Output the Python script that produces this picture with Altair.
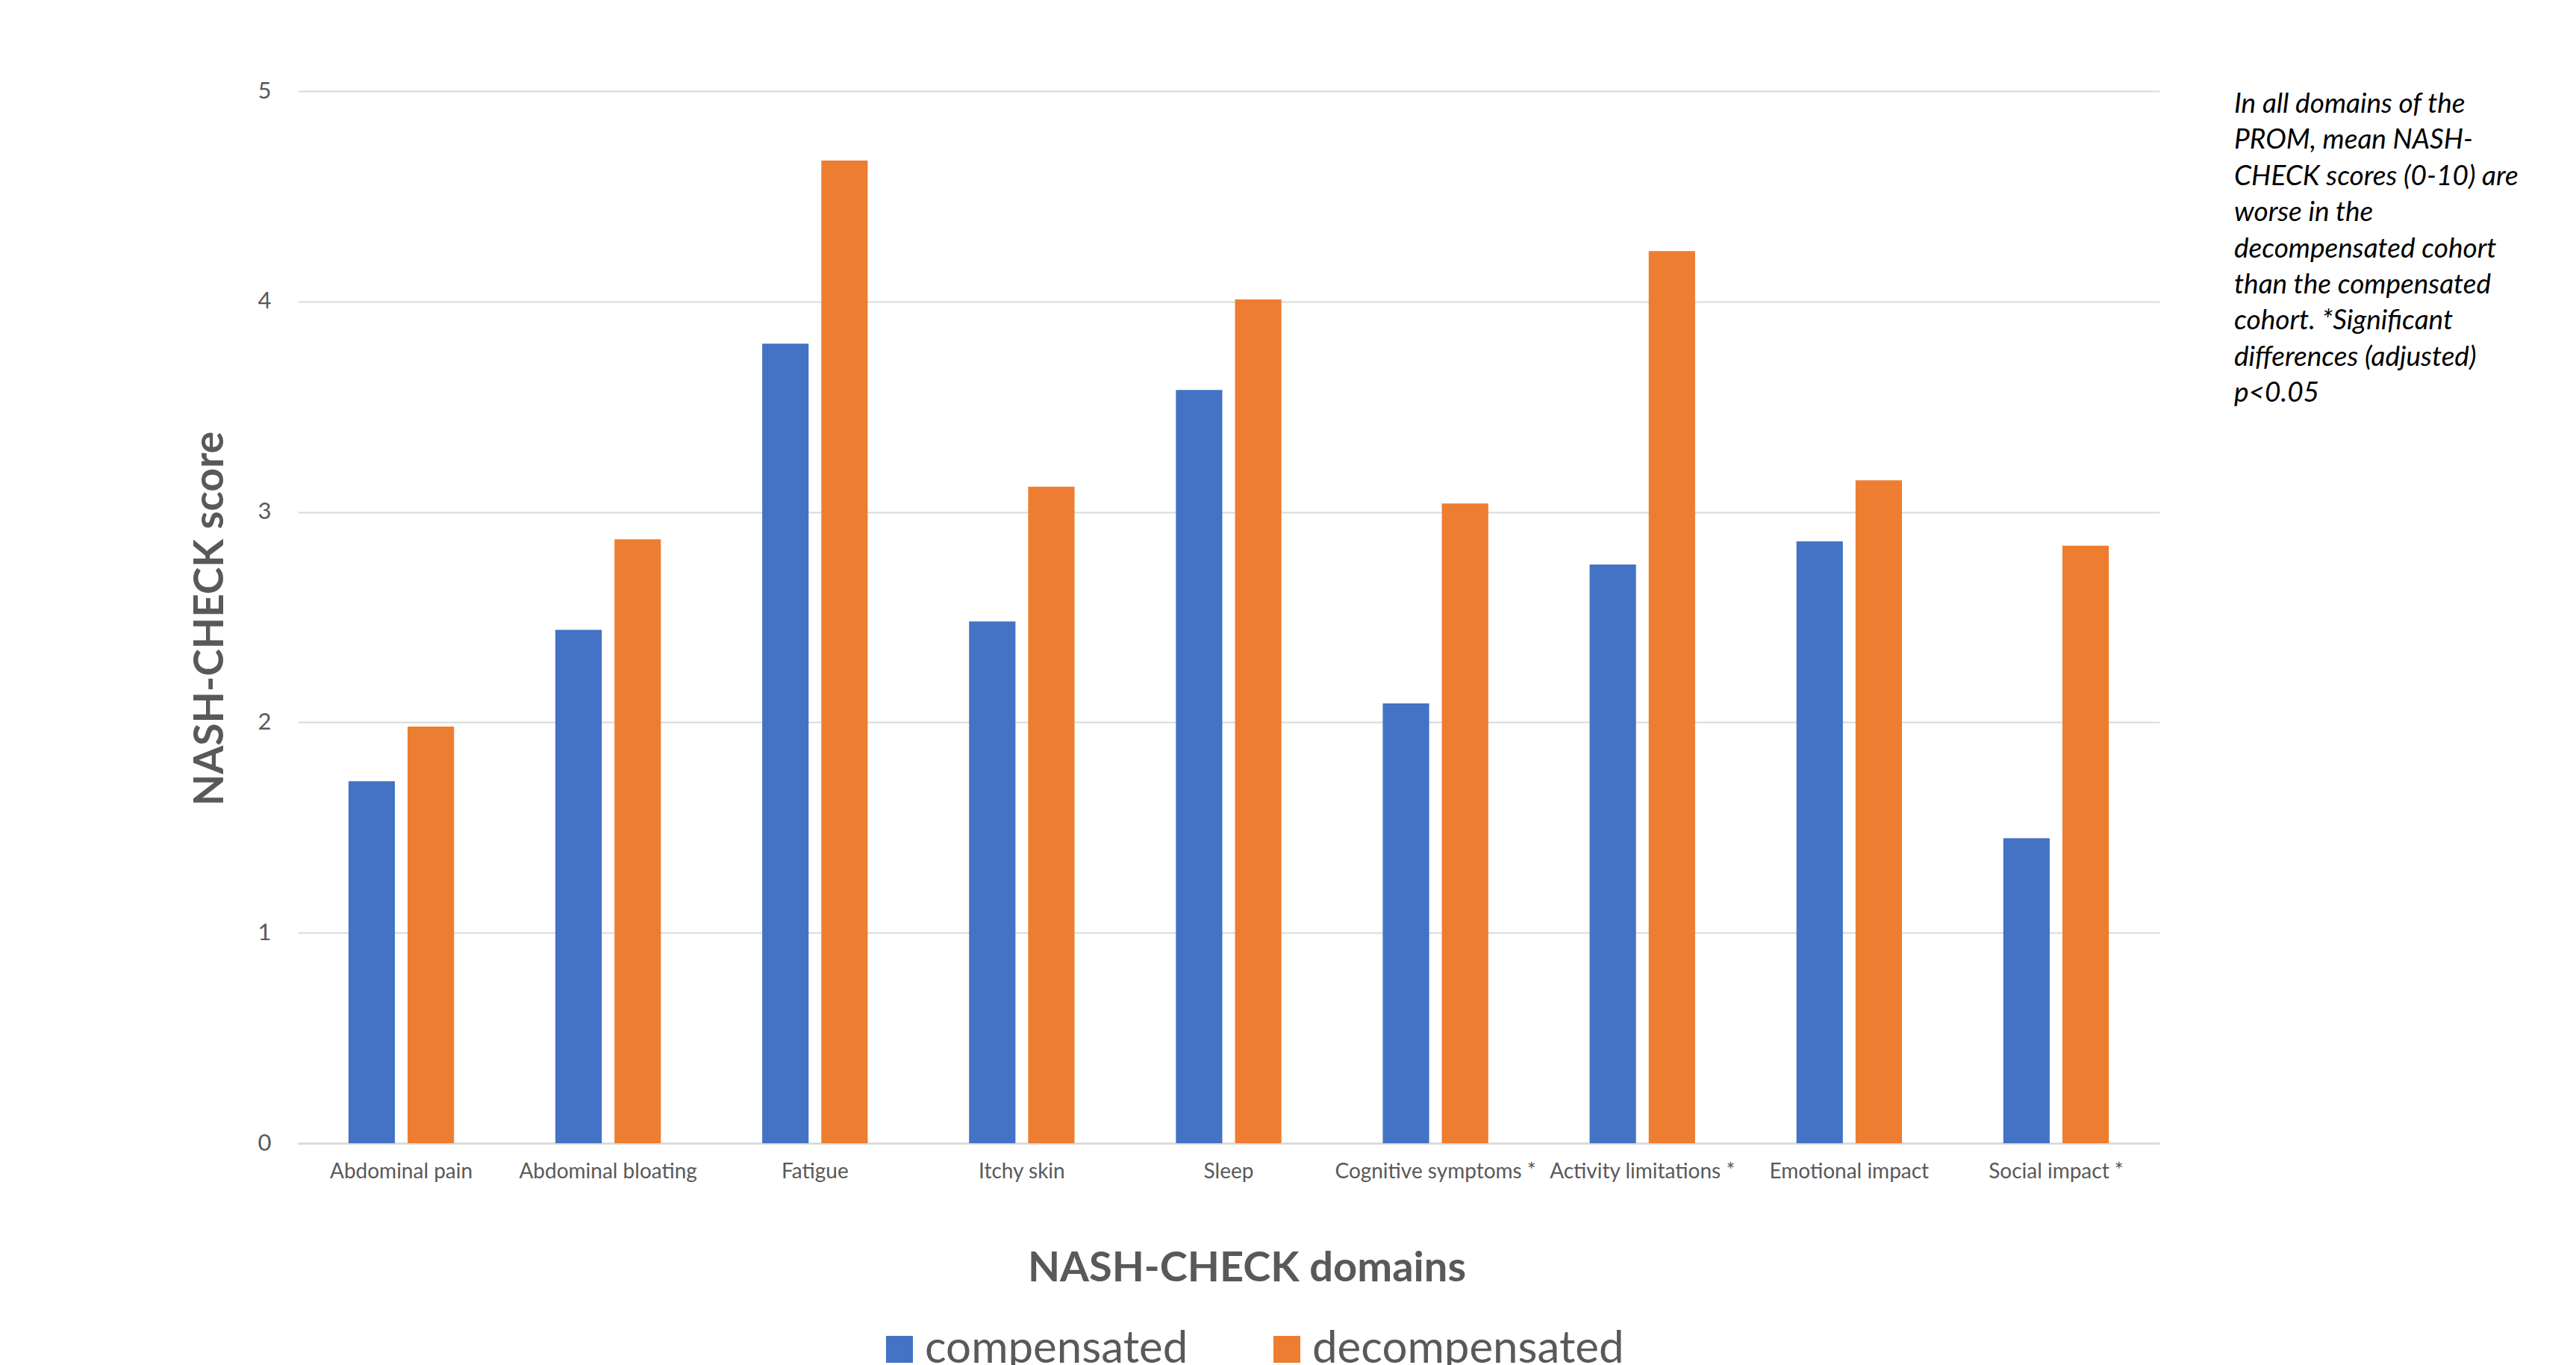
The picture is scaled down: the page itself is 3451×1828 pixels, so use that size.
import altair as alt
import pandas as pd

domains = ["Abdominal pain", "Abdominal bloating", "Fatigue", "Itchy skin", "Sleep",
           "Cognitive symptoms *", "Activity limitations *", "Emotional impact", "Social impact *"]
compensated = [1.72, 2.44, 3.80, 2.48, 3.58, 2.09, 2.75, 2.86, 1.45]
decompensated = [1.98, 2.87, 4.67, 3.12, 4.01, 3.04, 4.24, 3.15, 2.84]
cohorts = ["compensated", "decompensated"]
colors = ["#4472C4", "#ED7D31"]
y_ticks = [0, 1, 2, 3, 4, 5]
note_lines = [
    "In all domains of the",
    "PROM, mean NASH-",
    "CHECK scores (0-10) are",
    "worse in the",
    "decompensated cohort",
    "than the compensated",
    "cohort. *Significant",
    "differences (adjusted)",
    "p<0.05",
]

rows = []
for d, c, dc in zip(domains, compensated, decompensated):
    rows.append({"domain": d, "cohort": cohorts[0], "score": c})
    rows.append({"domain": d, "cohort": cohorts[1], "score": dc})
df = pd.DataFrame(rows)

FONT = "Lato"
GREY = "#595959"

bars = alt.Chart(df).mark_bar().encode(
    x=alt.X("domain:N", sort=domains,
            scale=alt.Scale(paddingInner=0.49, paddingOuter=0.245),
            axis=alt.Axis(title="NASH-CHECK domains", labelAngle=0, labelFontSize=28,
                          labelFont=FONT, labelColor=GREY, labelPadding=24, labelLimit=0,
                          ticks=False, domainColor="#D9D9D9", domainWidth=2.5,
                          titleFont=FONT, titleFontSize=56, titleFontWeight="bold",
                          titleColor=GREY, titleX=1271, titleY=167, titleBaseline="middle",
                          titleAlign="center")),
    xOffset=alt.XOffset("cohort:N", sort=cohorts,
                        scale=alt.Scale(paddingInner=0.215, paddingOuter=0)),
    y=alt.Y("score:Q", scale=alt.Scale(domain=[0, 5], nice=False),
            axis=alt.Axis(values=y_ticks, title="NASH-CHECK score", labelFontSize=31,
                          labelFont=FONT, labelColor=GREY, labelPadding=36, ticks=False,
                          domain=False, grid=True, gridColor="#D9D9D9", gridWidth=2,
                          titleFont=FONT, titleFontSize=55, titleFontWeight="bold",
                          titleColor=GREY, titleAngle=-90, titleX=-118, titleY=706,
                          titleBaseline="middle", titleAlign="center")),
    color=alt.Color("cohort:N", scale=alt.Scale(domain=cohorts, range=colors),
                    legend=alt.Legend(title=None, orient="none", direction="horizontal",
                                      legendX=776, legendY=1655, symbolType="square",
                                      symbolSize=1296, symbolStrokeWidth=0,
                                      labelFontSize=60, labelFont=FONT, labelColor=GREY,
                                      labelOffset=4, columnPadding=102, padding=0,
                                      labelLimit=0)),
)

note = alt.Chart(alt.Data(values=[{}])).mark_text(
    align="left", baseline="alphabetic", font=FONT, fontSize=37, fontStyle="italic",
    color="#000000", lineHeight=48.4,
).encode(x=alt.value(2594), y=alt.value(29), text=alt.value(note_lines))

chart = alt.layer(bars, note).properties(
    width=2494, height=1409,
    autosize=alt.AutoSizeParams(type="none"),
    padding={"left": 399, "top": 122, "right": 558, "bottom": 297},
    background="#FFFFFF",
).configure_view(stroke=None)

chart.save("out.html", embed_options={"renderer": "svg", "actions": False})
